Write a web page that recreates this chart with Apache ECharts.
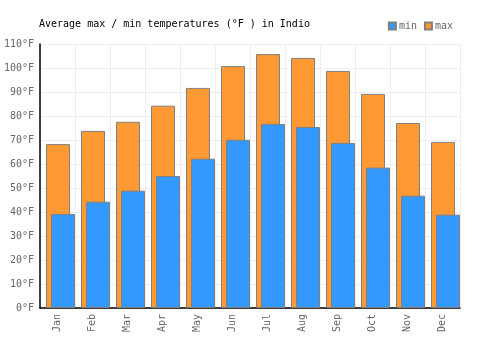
<!DOCTYPE html>
<html>
<head>
<meta charset="utf-8">
<script src="https://cdn.jsdelivr.net/npm/echarts@6/dist/echarts.min.js"></script>
<style>
  html, body { margin: 0; padding: 0; background: #fff; }
  #chart { width: 500px; height: 350px; }
</style>
</head>
<body>
<div id="chart"></div>
<script>
const months = ["Jan", "Feb", "Mar", "Apr", "May", "Jun", "Jul", "Aug", "Sep", "Oct", "Nov", "Dec"];
const maxTemps = [68.3, 73.8, 77.6, 84.3, 91.7, 100.8, 105.8, 104.2, 98.8, 89.2, 77.1, 69.2];
const minTemps = [39.2, 44.3, 48.9, 55.0, 62.2, 70.1, 76.7, 75.4, 68.8, 58.5, 46.8, 38.9];

const font = "'DejaVu Sans Mono', monospace";
const chart = echarts.init(document.getElementById("chart"));

chart.setOption({
  animation: false,
  title: {
    text: "Average max / min temperatures (°F ) in Indio",
    left: 34,
    top: 14,
    textStyle: { fontFamily: font, fontSize: 10, fontWeight: "normal", color: "#000" }
  },
  legend: {
    data: ["min", "max"],
    right: 42,
    top: 16,
    itemWidth: 7,
    itemHeight: 7,
    itemGap: 7,
    icon: "rect",
    textStyle: { fontFamily: font, fontSize: 10, color: "#666", padding: [0, 0, 0, -2] }
  },
  grid: { left: 40, right: 40, top: 44, bottom: 42 },
  xAxis: {
    type: "category",
    data: months,
    axisLine: { lineStyle: { color: "#000", width: 1.5 } },
    axisTick: { show: false },
    splitLine: { show: true, lineStyle: { color: "#eee" } },
    axisLabel: { rotate: 90, fontFamily: font, fontSize: 10, color: "#666", margin: 6 }
  },
  yAxis: {
    type: "value",
    min: 0,
    max: 110,
    interval: 10,
    axisLine: { show: true, lineStyle: { color: "#000", width: 1.5 } },
    axisTick: { show: false },
    splitLine: { lineStyle: { color: "#eee" } },
    axisLabel: { formatter: "{value}°F", fontFamily: font, fontSize: 10, color: "#666", margin: 6 }
  },
  series: [
    {
      name: "max",
      type: "bar",
      data: maxTemps,
      barWidth: 24,
      barGap: "-79.17%",
      itemStyle: { color: "#ff9933", borderColor: "#808080", borderWidth: 1 }
    },
    {
      name: "min",
      type: "bar",
      data: minTemps,
      barWidth: 24,
      barGap: "-79.17%",
      itemStyle: { color: "#3399ff", borderColor: "#808080", borderWidth: 1 }
    },
    {
      name: "spacer",
      type: "bar",
      data: [],
      barWidth: 13,
      barGap: "-79.17%"
    }
  ]
});
</script>
</body>
</html>
